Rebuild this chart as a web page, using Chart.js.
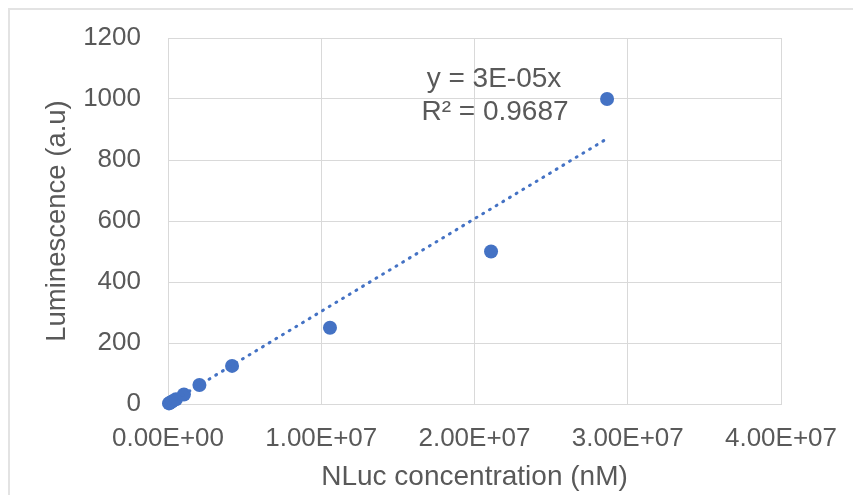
<!DOCTYPE html>
<html>
<head>
<meta charset="utf-8">
<script src="https://cdn.jsdelivr.net/npm/chart.js@4/dist/chart.umd.min.js"></script>
<style>
  html, body { margin: 0; padding: 0; background: #ffffff; }
  #wrap { width: 853px; height: 495px; }
</style>
</head>
<body>
<div id="wrap"><canvas id="c" width="853" height="495"></canvas></div>
<script>
// ---- data ----
const concX = [6.5e4, 1.3e5, 2.6e5, 5.2e5, 1.04e6, 2.05e6, 4.18e6, 1.057e7, 2.108e7, 2.865e7];
const lumY  = [1.95, 3.9, 7.8, 15.6, 31.25, 62.5, 125, 250, 500, 1000];
const trendX = [6.5e4, 2.865e7];
const trendY = [2, 870];
const xTickLabels = ['0.00E+00', '1.00E+07', '2.00E+07', '3.00E+07', '4.00E+07'];
const yTickLabels = ['0', '200', '400', '600', '800', '1000', '1200'];
const trendLabel = ['y = 3E-05x', 'R\u00B2 = 0.9687'];

const FONT = '"Liberation Sans", Arial, sans-serif';
const TXT = '#595959';
const GRID = '#d9d9d9';
const BLUE = '#4472C4';

const frame = {
  id: 'frame',
  beforeDraw(chart) {
    const ctx = chart.ctx;
    ctx.save();
    ctx.fillStyle = '#ffffff';
    ctx.fillRect(0, 0, chart.width, chart.height);
    ctx.strokeStyle = '#e3e3e3';
    ctx.lineWidth = 2;
    ctx.strokeRect(9, 9, chart.width + 10, chart.height + 10);
    ctx.restore();
  }
};

const annot = {
  id: 'annot',
  afterDatasetsDraw(chart) {
    const ctx = chart.ctx;
    const a = chart.chartArea;
    ctx.save();
    ctx.fillStyle = TXT;
    ctx.font = '28px ' + FONT;
    ctx.textAlign = 'center';
    ctx.textBaseline = 'middle';
    ctx.fillText(trendLabel[0], a.left + 326, a.top + 41);
    ctx.fillText(trendLabel[1], a.left + 327, a.top + 74);
    ctx.restore();
  }
};

function noPad(s) {
  s.paddingTop = 0; s.paddingBottom = 0; s.paddingLeft = 0; s.paddingRight = 0;
}

new Chart(document.getElementById('c'), {
  type: 'scatter',
  data: {
    datasets: [
      {
        label: 'trend',
        data: trendX.map((x, i) => ({ x: x, y: trendY[i] })),
        showLine: true,
        borderColor: BLUE,
        borderWidth: 3,
        borderDash: [1, 6.8],
        borderCapStyle: 'round',
        pointRadius: 0,
        fill: false,
        clip: false,
        order: 0
      },
      {
        label: 'data',
        data: concX.map((x, i) => ({ x: x, y: lumY[i] })),
        backgroundColor: BLUE,
        borderColor: BLUE,
        borderWidth: 0,
        pointRadius: 7,
        pointHoverRadius: 7,
        clip: false,
        order: 1
      }
    ]
  },
  options: {
    responsive: false,
    animation: false,
    events: [],
    layout: { padding: { left: 0, right: 72, top: 38, bottom: 0 } },
    plugins: { legend: { display: false }, tooltip: { enabled: false } },
    scales: {
      x: {
        type: 'linear',
        min: 0, max: 4e7,
        afterFit(s) { s.height = 91; noPad(s); },
        ticks: {
          stepSize: 1e7,
          color: TXT,
          font: { family: FONT, size: 26 },
          padding: 19,
          maxRotation: 0,
          callback: (v, i) => xTickLabels[i]
        },
        grid: { color: GRID, lineWidth: 1, drawTicks: false, tickLength: 0 },
        border: { color: GRID, width: 1 },
        title: {
          display: true,
          text: 'NLuc concentration (nM)',
          color: TXT,
          font: { family: FONT, size: 28 },
          padding: { top: 0, bottom: 1 }
        }
      },
      y: {
        type: 'linear',
        min: 0, max: 1200,
        afterFit(s) { s.width = 168; noPad(s); },
        ticks: {
          stepSize: 200,
          color: TXT,
          font: { family: FONT, size: 26 },
          padding: 27,
          callback: (v, i) => yTickLabels[i]
        },
        grid: { color: GRID, lineWidth: 1, drawTicks: false, tickLength: 0 },
        border: { display: false },
        title: {
          display: true,
          text: 'Luminescence (a.u)',
          color: TXT,
          font: { family: FONT, size: 27.5 },
          padding: { top: 41, bottom: 0 }
        }
      }
    }
  },
  plugins: [frame, annot]
});
</script>
</body>
</html>
